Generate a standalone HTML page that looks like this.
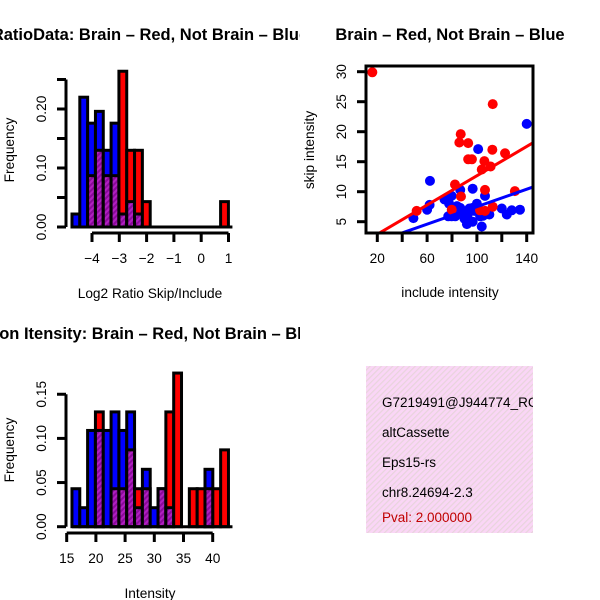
<!DOCTYPE html>
<html><head><meta charset="utf-8"><style>
html,body{margin:0;padding:0;background:#fff;}
svg{display:block;font-family:"Liberation Sans",sans-serif;}
</style></head><body>
<svg id="s" width="600" height="600" viewBox="0 0 600 600">
<defs>
<pattern id="hatch" width="4" height="4" patternUnits="userSpaceOnUse" patternTransform="rotate(45)">
<rect width="4" height="4" fill="#8a0a9a"/><rect width="2" height="4" fill="#b020c0"/></pattern>
<pattern id="pink" width="4" height="4" patternUnits="userSpaceOnUse" patternTransform="rotate(45)">
<rect width="4" height="4" fill="#fad6f6"/><rect width="1.2" height="4" fill="#e8d4dc"/></pattern>
<clipPath id="box2"><rect x="366" y="66" width="167" height="167"/></clipPath>
<clipPath id="box4"><rect x="366" y="366" width="167" height="167"/></clipPath>
<clipPath id="leftHalf"><rect x="0" y="0" width="300" height="600"/></clipPath>
</defs>
<g id="p1"></g>
<g id="p2"></g>
<g id="p3"></g>
<g id="p4">
<rect x="366" y="366" width="167" height="167" fill="url(#pink)"/>
<g clip-path="url(#box4)" font-size="13.5">
<text x="382" y="407">G7219491@J944774_RC</text>
<text x="382" y="437">altCassette</text>
<text x="382" y="467">Eps15-rs</text>
<text x="382" y="497">chr8.24694-2.3</text>
<text x="382" y="522" fill="#c00000">Pval: 2.000000</text>
</g></g>
</svg>
<script>
// Histogram 1 data (log2 ratio)
const h1Start = -4.733, h1Width = 0.2865;
const h1Blue = [0.022,0.22,0.176,0.196,0.13,0.176,0.022,0.043,0.022,0,0,0,0,0,0,0,0,0,0,0];
const h1Red  = [0,0,0.087,0.13,0.087,0.087,0.264,0.13,0.13,0.043,0,0,0,0,0,0,0,0,0,0.043];
const h1YTicks = [0,0.05,0.10,0.15,0.20,0.25];
const h1YLabels = ["0.00","","0.10","","0.20",""];
const h1XTicks = [-4,-3,-2,-1,0,1];
// Histogram 2 data (intensity)
const h2Start = 15.9, h2Width = 1.34;
const h2Blue = [0.043,0.0215,0.109,0.109,0.109,0.13,0.109,0.13,0.0215,0.065,0.0215,0.043,0.0215,0,0,0,0,0.065,0,0];
const h2Red  = [0,0,0,0.13,0,0.043,0.043,0.087,0.043,0.043,0,0.043,0.13,0.174,0,0.043,0.043,0.043,0.043,0.087];
const h2YTicks = [0,0.05,0.10,0.15];
const h2YLabels = ["0.00","0.05","0.10","0.15"];
const h2XTicks = [15,20,25,30,35,40];
// Scatter data
const redX = [16,112.7,87,85.9,93,112.4,122.6,93,96,106,103.9,111,82.4,106.5,130.5,51.6,87.2,112.7,102.5,106.5,79.8];
const redY = [29.9,24.6,19.6,18.2,18.1,17,16.4,15.4,15.4,15.1,13.7,14.2,11.2,10.3,10.1,6.8,9.2,7.5,6.9,6.8,7.0];
const blueX = [140,101,62.3,106.5,96.6,86.6,49,62,60,74,79.7,77.7,79.7,80.5,103.9,120,124,128,134.6,86.6,92.6,96.6,100,94,102.6,82.6,77,110,96.6,88,90,98,105,84,92];
const blueY = [21.3,17.1,11.8,9.3,10.5,10.3,5.6,7.8,7.0,8.7,9.3,8.0,5.9,7.0,4.2,7.2,6.2,6.9,7.0,7.3,6.2,5.0,8.0,7.2,5.9,5.9,5.9,6.2,7.3,6.5,5.5,6.8,6.0,7.6,4.6];
const redFit = [0.46,0.122];
const blueFit = [0.22,0.0728];
const sXTicks = [20,40,60,80,100,120,140];
const sXLabels = ["20","","60","","100","","140"];
const sYTicks = [5,10,15,20,25,30];

const FS=13.7, TFS=16.5;
const NS="http://www.w3.org/2000/svg";
function mk(parent,tag,attrs){const e=document.createElementNS(NS,tag);for(const k in attrs)e.setAttribute(k,attrs[k]);parent.appendChild(e);return e;}

function hist(g,start,width,blue,red,yt,yl,xt,xs,ys,y0,title,xlab,xAxisY){
  const n=blue.length;
  for(let i=0;i<n;i++){
    const a=xs(start+i*width), b=xs(start+(i+1)*width);
    const lo=Math.min(blue[i],red[i]), hi=Math.max(blue[i],red[i]);
    const topCol = blue[i]>=red[i]?"#0000ff":"#ff0000";
    if(hi>0){
      const r=mk(g,"rect",{x:a,y:ys(hi),width:b-a,height:ys(0)-ys(hi),fill:topCol,stroke:"#000","stroke-width":3});
      
      
    }
    if(lo>0){
      const r=mk(g,"rect",{x:a,y:ys(lo),width:b-a,height:ys(0)-ys(lo),fill:"url(#hatch)",stroke:"#000","stroke-width":3});
      
      
    }
  }
  const base=mk(g,"line",{x1:xs(start),x2:xs(start+n*width)+4,y1:ys(0),y2:ys(0),stroke:"#000","stroke-width":3});
  
  
  const ya=mk(g,"g",{});
  
  
  mk(ya,"line",{x1:66,x2:66,y1:ys(yt[0]),y2:ys(yt[yt.length-1]),stroke:"#000","stroke-width":3});
  yt.forEach((v,i)=>{mk(ya,"line",{x1:57,x2:66,y1:ys(v),y2:ys(v),stroke:"#000","stroke-width":3});
    if(yl[i]){const t=mk(ya,"text",{x:0,y:0,"font-size":FS,"text-anchor":"middle",transform:`translate(46,${ys(v)}) rotate(-90)`});t.textContent=yl[i];}});
  const xa=mk(g,"g",{});
  
  
  mk(xa,"line",{x1:xs(xt[0]),x2:xs(xt[xt.length-1]),y1:xAxisY,y2:xAxisY,stroke:"#000","stroke-width":3});
  xt.forEach(v=>{mk(xa,"line",{x1:xs(v),x2:xs(v),y1:xAxisY,y2:xAxisY+9,stroke:"#000","stroke-width":3});
    const t=mk(xa,"text",{x:xs(v),y:xAxisY+30,"font-size":FS,"text-anchor":"middle"});t.textContent=(v<0?"\u2212"+(-v):String(v));});
  const yl2=mk(g,"text",{x:0,y:0,"font-size":FS,"text-anchor":"middle",transform:`translate(14,${y0}) rotate(-90)`});yl2.textContent="Frequency";
  
  
  const xl=mk(g,"text",{x:150,y:xAxisY+65,"font-size":FS,"text-anchor":"middle"});xl.textContent=xlab;
  
  
  const tt=mk(g,"text",{x:150,y:title[1],"font-size":TFS,"font-weight":"bold","text-anchor":"middle","clip-path":"url(#leftHalf)"});tt.textContent=title[0];
  
  
}

// plot 1
{const xs=v=>92+(v+4)*27.3, ys=v=>227-v*590;
 hist(document.getElementById('p1'),h1Start,h1Width,h1Blue,h1Red,h1YTicks,h1YLabels,h1XTicks,xs,ys,150,["RatioData: Brain \u2013 Red, Not Brain \u2013 Blue",40],"Log2 Ratio Skip/Include",233);}
// plot 3
{const xs=v=>66.7+(v-15)*5.84, ys=v=>526.7-v*883;
 hist(document.getElementById('p3'),h2Start,h2Width,h2Blue,h2Red,h2YTicks,h2YLabels,h2XTicks,xs,ys,450,["Exon Itensity: Brain \u2013 Red, Not Brain \u2013 Blue",339],"Intensity",533);}
// plot 2 scatter
{const g=document.getElementById('p2');
 const xs=v=>377.3+(v-20)*1.245, ys=v=>221.7-(v-5)*6;
 const pts=mk(g,"g",{"clip-path":"url(#box2)"});
 blueX.forEach((v,i)=>{const c=mk(pts,"circle",{cx:xs(v),cy:ys(blueY[i]),r:5,fill:"#0000ff"});
   
   });
 redX.forEach((v,i)=>{const c=mk(pts,"circle",{cx:xs(v),cy:ys(redY[i]),r:5,fill:"#ff0000"});
   
   });
 [[redFit,"#ff0000","fit-line-brain"],[blueFit,"#0000ff","fit-line-not-brain"]].forEach(([f,c,n])=>{
   const l=mk(pts,"line",{x1:xs(0),y1:ys(f[0]),x2:xs(160),y2:ys(f[0]+f[1]*160),stroke:c,"stroke-width":3});
   
   });
 const box=mk(g,"rect",{x:366,y:66,width:167,height:167,fill:"none",stroke:"#000","stroke-width":3});
 
 
 const xa=mk(g,"g",{});
 
 
 sXTicks.forEach((v,i)=>{mk(xa,"line",{x1:xs(v),x2:xs(v),y1:233,y2:242,stroke:"#000","stroke-width":3});
   if(sXLabels[i]){const t=mk(xa,"text",{x:xs(v),y:263,"font-size":FS,"text-anchor":"middle"});t.textContent=sXLabels[i];}});
 const ya=mk(g,"g",{});
 
 
 sYTicks.forEach(v=>{mk(ya,"line",{x1:357,x2:366,y1:ys(v),y2:ys(v),stroke:"#000","stroke-width":3});
   const t=mk(ya,"text",{x:0,y:0,"font-size":FS,"text-anchor":"middle",transform:`translate(346,${ys(v)}) rotate(-90)`});t.textContent=String(v);});
 const yl=mk(g,"text",{x:0,y:0,"font-size":FS,"text-anchor":"middle",transform:`translate(314,150) rotate(-90)`});yl.textContent="skip intensity";
 
 
 const xl=mk(g,"text",{x:450,y:297,"font-size":FS,"text-anchor":"middle"});xl.textContent="include intensity";
 
 
 const tt=mk(g,"text",{x:450,y:40,"font-size":TFS,"font-weight":"bold","text-anchor":"middle"});tt.textContent="Brain \u2013 Red, Not Brain \u2013 Blue";
 
 }
</script>
</body></html>
